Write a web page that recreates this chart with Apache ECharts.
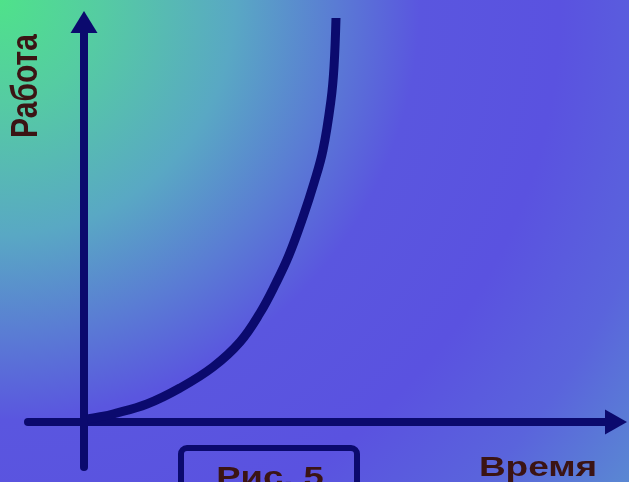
<!DOCTYPE html>
<html>
<head>
<meta charset="utf-8">
<script src="https://cdn.jsdelivr.net/npm/echarts@6/dist/echarts.min.js"></script>
<style>
html,body{margin:0;padding:0;}
#chart{width:629px;height:482px;
background: radial-gradient(circle at 0 0, #4fe28a 0px, #55cca2 100px, #59a8c4 235px, #5a7cd4 335px, #5a56df 420px, #5a52e0 560px, #5a64dc 680px, #5a8ad2 800px);}
</style>
</head>
<body>
<div id="chart"></div>
<script>
// Data (arbitrary units: time vs work)
var timeValues = [0.3, 1.5, 2.9, 6.3, 9.6, 12.9, 15.6, 17.6, 19.2, 20.5, 21.9, 23.0, 23.9, 24.7, 25.0, 25.2];
var workValues = [0.3, 0.5, 0.8, 1.8, 3.4, 5.5, 8.0, 10.9, 13.9, 16.7, 20.5, 23.9, 27.2, 32.2, 35.5, 40.4];
var xAxisName = 'Время';
var yAxisName = 'Работа';
var figureLabel = 'Рис. 5';

var navy = '#0b0a6e';
var textColor = '#3b1414';

var pts = timeValues.map(function (t, i) { return [t, workValues[i]]; });

var chart = echarts.init(document.getElementById('chart'), null, {renderer: 'canvas'});
chart.setOption({
  backgroundColor: 'transparent',
  animation: false,
  grid: {left: 28, right: 13, top: 22, bottom: 15, containLabel: false},
  xAxis: {
    type: 'value', min: -5.6, max: 53.2,
    axisLine: {show: true, onZero: true, symbol: ['none', 'triangle'], symbolSize: [25, 22],
      lineStyle: {color: navy, width: 8}},
    axisTick: {show: false}, axisLabel: {show: false}, splitLine: {show: false}
  },
  yAxis: {
    type: 'value', min: -4.5, max: 40,
    axisLine: {show: true, onZero: true, symbol: ['none', 'triangle'], symbolSize: [27, 22],
      lineStyle: {color: navy, width: 8}},
    axisTick: {show: false}, axisLabel: {show: false}, splitLine: {show: false}
  },
  series: [{
    type: 'line', data: pts, smooth: 0.4, symbol: 'none', clip: false,
    lineStyle: {color: navy, width: 9, cap: 'butt'}, z: 3
  }],
  graphic: [
    {type: 'text', x: 27, y: 86, rotation: Math.PI / 2, scaleY: 1.25,
      style: {text: yAxisName, font: 'bold 30px "Liberation Sans", Arial, sans-serif', fill: textColor,
        align: 'center', verticalAlign: 'middle'}},
    {type: 'text', x: 538, y: 468, scaleX: 1.32,
      style: {text: xAxisName, font: 'bold 28px "Liberation Sans", Arial, sans-serif', fill: textColor,
        align: 'center', verticalAlign: 'middle'}},
    {type: 'rect', shape: {x: 181, y: 448, width: 176, height: 60, r: 6},
      style: {fill: 'none', stroke: navy, lineWidth: 6}},
    {type: 'text', x: 270, y: 478, scaleX: 1.3,
      style: {text: figureLabel, font: 'bold 28px "Liberation Sans", Arial, sans-serif', fill: textColor,
        align: 'center', verticalAlign: 'middle'}}
  ]
});
</script>
</body>
</html>
